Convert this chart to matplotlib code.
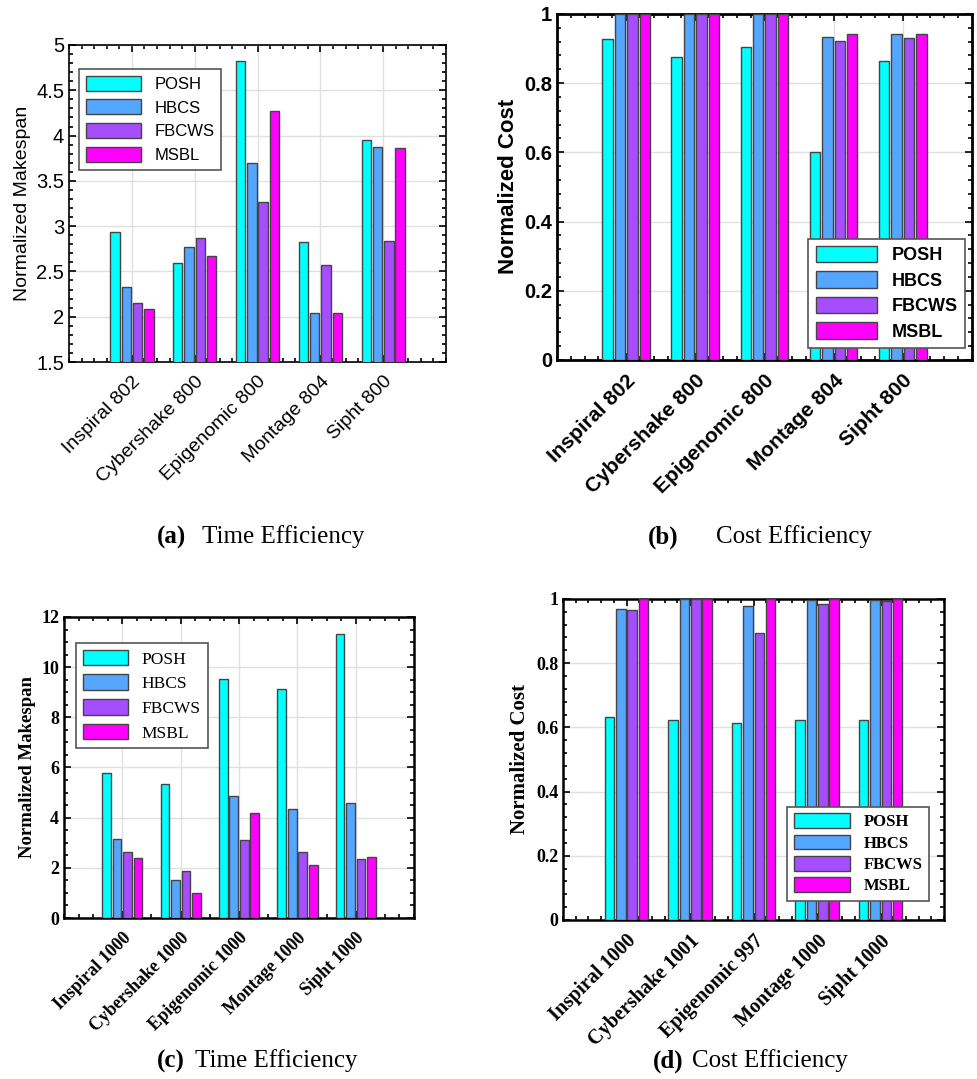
import numpy as np
import matplotlib
matplotlib.use('Agg')
import matplotlib.pyplot as plt
from matplotlib.ticker import AutoMinorLocator, MultipleLocator, FormatStrFormatter

methods = ['POSH', 'HBCS', 'FBCWS', 'MSBL']
colors = ['#00FFFF', '#55A6FF', '#A64DFF', '#FF00FF']

labels_a = ['Inspiral 802', 'Cybershake 800', 'Epigenomic 800', 'Montage 804', 'Sipht 800']
posh_a = [2.94, 2.59, 4.82, 2.83, 3.95]
hbcs_a = [2.33, 2.77, 3.70, 2.04, 3.87]
fbcws_a = [2.15, 2.87, 3.27, 2.57, 2.84]
msbl_a = [2.08, 2.67, 4.27, 2.04, 3.86]

labels_b = ['Inspiral 802', 'Cybershake 800', 'Epigenomic 800', 'Montage 804', 'Sipht 800']
posh_b = [0.928, 0.876, 0.904, 0.600, 0.863]
hbcs_b = [1.0, 1.0, 1.0, 0.934, 0.942]
fbcws_b = [1.0, 1.0, 1.0, 0.922, 0.931]
msbl_b = [1.0, 1.0, 1.0, 0.942, 0.941]

labels_c = ['Inspiral 1000', 'Cybershake 1000', 'Epigenomic 1000', 'Montage 1000', 'Sipht 1000']
posh_c = [5.77, 5.35, 9.52, 9.12, 11.34]
hbcs_c = [3.15, 1.53, 4.85, 4.35, 4.57]
fbcws_c = [2.65, 1.86, 3.12, 2.62, 2.36]
msbl_c = [2.40, 1.01, 4.18, 2.12, 2.44]

labels_d = ['Inspiral 1000', 'Cybershake 1001', 'Epigenomic 997', 'Montage 1000', 'Sipht 1000']
posh_d = [0.632, 0.623, 0.614, 0.623, 0.623]
hbcs_d = [0.970, 1.0, 0.977, 0.996, 0.996]
fbcws_d = [0.966, 1.0, 0.895, 0.984, 0.994]
msbl_d = [1.0, 1.0, 1.0, 1.0, 1.0]

SANS = 'Liberation Sans'
SERIF = 'Liberation Serif'

fig = plt.figure(figsize=(9.78, 10.79), dpi=100)


def panel(rect, labels, series, ylim, ystep, ysub, xsub, ylabel, family, weight,
          tick_fs, ylabel_fs, xtick_fs, leg_fs, leg_loc, leg_anchor, leg_weight,
          spine_lw, hlen, lspace):
    ax = fig.add_axes(rect)
    x = np.arange(1, len(labels) + 1)
    offsets = [-0.27, -0.09, 0.09, 0.27]
    for vals, name, c, off in zip(series, methods, colors, offsets):
        ax.bar(x + off, vals, width=0.15, color=c, edgecolor='#444444',
               linewidth=1.0, label=name, zorder=3)
    ax.set_xlim(0, 6)
    ax.set_ylim(*ylim)
    ax.set_xticks(x)
    ax.set_xticklabels(labels, rotation=45, ha='right', rotation_mode='anchor',
                       fontfamily=family, fontweight=weight, fontsize=xtick_fs)
    ax.yaxis.set_major_locator(MultipleLocator(ystep))
    ax.yaxis.set_major_formatter(FormatStrFormatter('%g'))
    ax.yaxis.set_minor_locator(AutoMinorLocator(ysub))
    ax.xaxis.set_minor_locator(AutoMinorLocator(xsub))
    for t in ax.get_yticklabels():
        t.set_fontfamily(family)
        t.set_fontweight(weight)
        t.set_fontsize(tick_fs)
    ax.tick_params(which='both', direction='in', top=True, right=True, width=1.2)
    ax.tick_params(which='major', length=5)
    ax.tick_params(which='minor', length=3)
    ax.tick_params(axis='x', which='major', pad=8)
    ax.grid(True, which='major', color='#e0e0e0', linewidth=1.0, zorder=0)
    ax.set_axisbelow(True)
    for s in ax.spines.values():
        s.set_linewidth(spine_lw)
    ax.set_ylabel(ylabel, fontfamily=family, fontweight=weight, fontsize=ylabel_fs)
    leg = ax.legend(loc=leg_loc, bbox_to_anchor=leg_anchor, borderaxespad=0,
                    fancybox=False, framealpha=1, edgecolor='#555555',
                    handlelength=hlen, handleheight=1.0, labelspacing=lspace,
                    prop={'family': family, 'weight': leg_weight, 'size': leg_fs})
    leg.get_frame().set_linewidth(1.2)
    leg.set_zorder(5)
    return ax


panel([0.0706, 0.6645, 0.3855, 0.2938], labels_a, [posh_a, hbcs_a, fbcws_a, msbl_a],
      (1.5, 5), 0.5, 5, 5, 'Normalized Makespan', SANS, 'normal',
      14.5, 14, 14, 12, 'upper left', (0.027, 0.924), 'normal', 1.2, 3.3, 0.45)

panel([0.5695, 0.6664, 0.4243, 0.3207], labels_b, [posh_b, hbcs_b, fbcws_b, msbl_b],
      (0, 1), 0.2, 5, 5, 'Normalized Cost', SANS, 'bold',
      14.5, 16, 15, 13, 'lower right', (0.983, 0.035), 'bold', 2.0, 3.4, 0.4)

panel([0.0654, 0.1492, 0.3580, 0.2790], labels_c, [posh_c, hbcs_c, fbcws_c, msbl_c],
      (0, 12), 2, 4, 4, 'Normalized Makespan', SERIF, 'bold',
      13, 13.5, 13, 12.5, 'upper left', (0.034, 0.914), 'normal', 1.8, 2.6, 0.4)

panel([0.5757, 0.1474, 0.3896, 0.2975], labels_d, [posh_d, hbcs_d, fbcws_d, msbl_d],
      (0, 1), 0.2, 5, 5, 'Normalized Cost', SERIF, 'bold',
      13, 15, 14.5, 12, 'lower right', (0.961, 0.059), 'bold', 1.8, 3.4, 0.25)

# captions
W, H = 978, 1079
caps = [
    (157, 202, 537, '(a)', 'Time Efficiency'),
    (648, 716, 537, '(b)', 'Cost Efficiency'),
    (157, 195, 1061, '(c)', 'Time Efficiency'),
    (653, 692, 1061, '(d)', 'Cost Efficiency'),
]
for x0, x1, y, tag, txt in caps:
    fig.text(x0 / W, 1 - y / H, tag, fontfamily=SERIF, fontweight='bold',
             fontsize=18, ha='left', va='center')
    fig.text(x1 / W, 1 - y / H, txt, fontfamily=SERIF, fontsize=18,
             ha='left', va='center')

fig.savefig('out.png', dpi=100)
